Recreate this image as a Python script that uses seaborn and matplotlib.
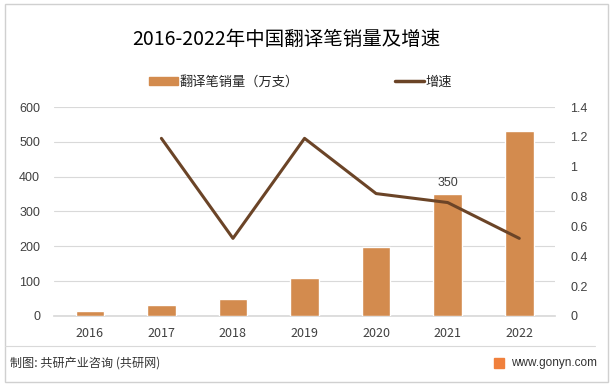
import matplotlib
matplotlib.use("Agg")
import matplotlib.pyplot as plt
import seaborn as sns
import pandas as pd
from matplotlib.patches import Rectangle
from matplotlib.lines import Line2D

years = ["2016", "2017", "2018", "2019", "2020", "2021", "2022"]
sales = [15, 32, 49, 109, 198, 350, 530]
growth = [None, 1.19, 0.52, 1.19, 0.82, 0.76, 0.52]

BAR_COLOR = "#D38B4E"
LINE_COLOR = "#6B4427"

sns.set_theme(style="white")
plt.rcParams["font.family"] = ["Noto Sans CJK SC", "DejaVu Sans"]

df = pd.DataFrame({"year": years, "sales": sales, "growth": growth})

fig = plt.figure(figsize=(6.14, 3.87), dpi=100)
ax = fig.add_axes([0.088, 0.1835, 0.816, 0.54])

sns.barplot(data=df, x="year", y="sales", color=BAR_COLOR, width=0.4,
            saturation=1, ax=ax, zorder=3)
ax.set_ylim(0, 600)
ax.set_yticks(range(0, 601, 100))
ax.grid(axis="y", color="#D9D9D9", linewidth=0.8, zorder=0)
ax.set_xlabel("")
ax.set_ylabel("")
for s in ["top", "right", "left"]:
    ax.spines[s].set_visible(False)
ax.spines["bottom"].set_color("#D9D9D9")
ax.tick_params(axis="both", length=0, labelsize=9, colors="#404040")
ax.tick_params(axis="y", pad=10)
ax.tick_params(axis="x", pad=8)
for lab in ax.get_yticklabels():
    lab.set_fontfamily("Liberation Sans")

# value label on 2021
ax.text(5, sales[5] + 14, "350", ha="center", va="bottom", fontsize=9,
        color="#404040", fontfamily="Liberation Sans")

ax2 = ax.twinx()
gdf = df.dropna(subset=["growth"])
sns.lineplot(x=gdf.index.to_numpy(), y=gdf["growth"].to_numpy(), color=LINE_COLOR,
             linewidth=2.2, ax=ax2, zorder=4)
ax2.set_ylim(0, 1.4)
ax2.set_yticks([0, 0.2, 0.4, 0.6, 0.8, 1, 1.2, 1.4])
ax2.set_yticklabels(["0", "0.2", "0.4", "0.6", "0.8", "1", "1.2", "1.4"])
for s in ax2.spines.values():
    s.set_visible(False)
ax2.tick_params(axis="y", length=0, labelsize=9, colors="#404040", pad=11)
for lab in ax2.get_yticklabels():
    lab.set_fontfamily("Liberation Sans")
ax.set_xlim(-0.5, 6.5)

fig.text(0.467, 0.897, "2016-2022年中国翻译笔销量及增速", ha="center", va="center",
         fontsize=14, color="#000000")

handles = [Rectangle((0, 0), 1, 1, color=BAR_COLOR),
           Line2D([0], [0], color=LINE_COLOR, linewidth=2.5)]
fig.legend(handles, ["翻译笔销量（万支）", "增速"], loc="center",
           bbox_to_anchor=(0.489, 0.788), ncol=2, frameon=False, fontsize=9.5,
           handlelength=2.2, handleheight=0.6, handletextpad=0.1, columnspacing=7.3)

# outer border and footer
fig.patches.append(Rectangle((5 / 614, 5 / 387), 603 / 614, 378 / 387, transform=fig.transFigure,
                             fill=False, edgecolor="#D0D0D0", linewidth=1))
fig.lines.append(Line2D([5 / 614, 595 / 614], [1 - 346 / 387, 1 - 346 / 387],
                        transform=fig.transFigure, color="#D9D9D9", linewidth=0.8))
fig.text(10 / 614, 1 - 363 / 387, "制图: 共研产业咨询 (共研网)", ha="left", va="center",
         fontsize=8.7, color="#333333")
fig.patches.append(Rectangle((494 / 614, 1 - 368 / 387), 10 / 614, 10 / 387,
                             transform=fig.transFigure, color="#F0803C"))
fig.text(597 / 614, 1 - 363 / 387, "www.gonyn.com", ha="right", va="center",
         fontsize=8.5, color="#333333", fontfamily="Liberation Sans")

fig.savefig("out.png", dpi=100)
